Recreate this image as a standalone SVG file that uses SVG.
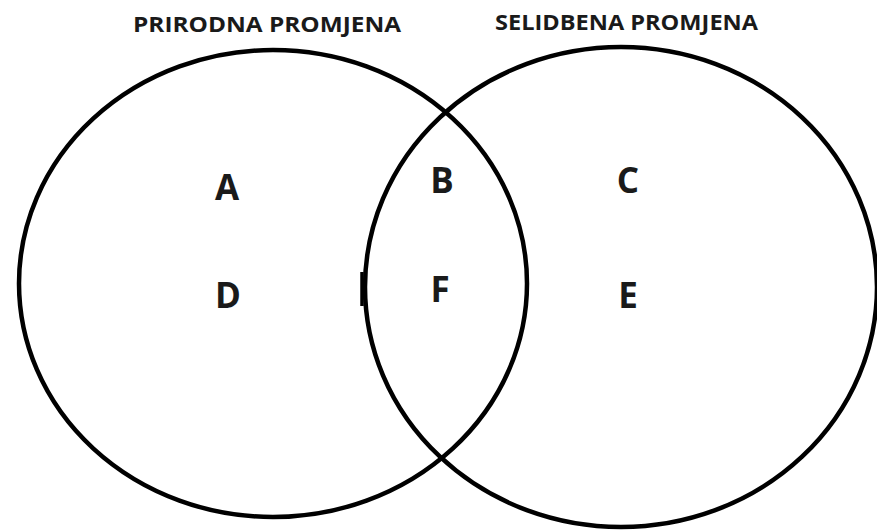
<svg xmlns="http://www.w3.org/2000/svg" width="877" height="531" viewBox="0 0 877 531">
<style>
.c{fill:none;stroke:#000;stroke-width:4.5}
.t{font-family:"Open Sans","Liberation Sans",sans-serif;font-weight:700;fill:#1a1a1a}
.title{font-size:21px}
.lbl{font-size:35px;text-anchor:middle}
</style>
<rect width="877" height="531" fill="#fff"/>
<g id="left-set">
<ellipse class="c" cx="273" cy="283.5" rx="254" ry="233.5"/>
<text class="t title" x="133" y="32" textLength="268" lengthAdjust="spacingAndGlyphs">PRIRODNA PROMJENA</text>
</g>
<g id="right-set">
<ellipse class="c" cx="621" cy="287" rx="256" ry="240"/>
<text class="t title" x="495" y="30" textLength="263" lengthAdjust="spacingAndGlyphs">SELIDBENA PROMJENA</text>
</g>
<g id="mark"><line x1="362" y1="272" x2="362" y2="306" stroke="#000" stroke-width="3.5"/></g>
<g id="A"><text class="t lbl" x="227" y="200">A</text></g>
<g id="B"><text class="t lbl" x="442" y="193">B</text></g>
<g id="C"><text class="t lbl" x="628" y="193">C</text></g>
<g id="D"><text class="t lbl" x="228" y="308">D</text></g>
<g id="F"><text class="t lbl" x="440" y="302">F</text></g>
<g id="E"><text class="t lbl" x="628" y="308">E</text></g>
<g id="connectors"></g>
</svg>
